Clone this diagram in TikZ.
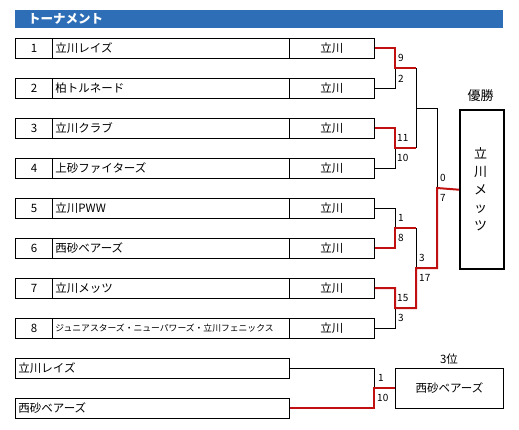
\documentclass[tikz,border=0pt]{standalone}
\usepackage{fontspec}
\setmainfont{Noto Sans CJK JP}
\definecolor{barblue}{RGB}{46,110,182}
\definecolor{winred}{RGB}{192,16,16}
\begin{document}
\begin{tikzpicture}[x=1pt,y=-1pt,
  cell/.style={draw=black, line width=0.9pt, minimum height=20, inner sep=0pt, anchor=west, font=\fontsize{11.5}{12}\selectfont},
  numcell/.style={cell, minimum width=37},
  namecell/.style={cell, text width=231, inner xsep=3pt, align=left},
  scorecell/.style={cell, minimum width=85},
  score/.style={anchor=west, inner sep=0pt, font=\fontsize{10}{10}\selectfont},
  blk/.style={draw=black, line width=0.9pt},
  red/.style={draw=winred, line width=2pt},
]
\useasboundingbox (0,0) rectangle (519,429);
% title bar
\node[fill=barblue, minimum width=488, minimum height=18, inner sep=0pt, anchor=north west] (bar) at (15,10) {};
\node[anchor=west, text=white, font=\bfseries\fontsize{12.5}{12.5}\selectfont, inner sep=0pt] (title) at (28,19) {トーナメント};

% team rows
\foreach \i/\nm/\y in {1/立川レイズ/48, 2/柏トルネード/88, 3/立川クラブ/128, 4/上砂ファイターズ/168, 5/立川PWW/208, 6/西砂ベアーズ/248, 7/立川メッツ/288} {
  \node[numcell] (n\i) at (15,\y) {\i};
  \node[namecell] (t\i) at (52,\y) {\nm};
  \node[scorecell] (s\i) at (289,\y) {立川};
}
\node[numcell] (n8) at (15,328) {8};
\node[namecell, font=\fontsize{8.8}{10}\selectfont] (t8) at (52,328) {ジュニアスターズ・ニューパワーズ・立川フェニックス};
\node[scorecell] (s8) at (289,328) {立川};

% junction coordinates
\coordinate (m1) at (395,68);  \coordinate (a1) at (416,68);
\coordinate (m2) at (395,148); \coordinate (a2) at (416,148);
\coordinate (m3) at (395,228); \coordinate (a3) at (416,228);
\coordinate (m4) at (395,308); \coordinate (a4) at (416,308);
\coordinate (q1) at (416,108); \coordinate (b1) at (437,108);
\coordinate (q2) at (416,268); \coordinate (b2) at (437,268);
\coordinate (f) at (437,188);

% champion box
\node[draw=black, line width=2.4pt, minimum width=44, minimum height=159, inner sep=0pt, anchor=north west] (champ) at (459,109) {};
\node[align=center, font=\fontsize{13}{18}\selectfont, inner sep=0pt] (champtxt) at (480.5,189) {立\\川\\メ\\ッ\\ツ};
\node[font=\fontsize{13}{13}\selectfont, inner sep=0pt] (yusho) at (480.5,96) {優勝};

% black lines
\draw[blk] (s2.east) -| (m1);
\draw[blk] (s4.east) -| (m2);
\draw[blk] (s5.east) -| (m3);
\draw[blk] (s8.east) -| (m4);
\draw[blk] (a1) -- (a2);
\draw[blk] (q1) -- (b1);
\draw[blk] (a3) -- (a4);
\draw[blk] (b1) -- (f);

% red lines (winners)
\draw[red] (s1.east) -| (m1) -- (a1);
\draw[red] (s3.east) -| (m2) -- (a2);
\draw[red] (s6.east) -| (m3) -- (a3);
\draw[red] (s7.east) -| (m4) -- (a4) -- (q2) -- (b2) -- (f) -- (champ.west);

% scores
\node[score] (sc1) at (398,58) {9};
\node[score] (sc2) at (398,79) {2};
\node[score] (sc3) at (397,138) {11};
\node[score] (sc4) at (397,158) {10};
\node[score] (sc5) at (398,218) {1};
\node[score] (sc6) at (398,238) {8};
\node[score] (sc7) at (397,298) {15};
\node[score] (sc8) at (398,318) {3};
\node[score] (sc9) at (419,258) {3};
\node[score] (sc10) at (419,278) {17};
\node[score] (sc11) at (440,178) {0};
\node[score] (sc12) at (440,198) {7};

% third place
\node[cell, text width=268, inner xsep=3pt, align=left] (p1) at (15,368) {立川レイズ};
\node[cell, text width=268, inner xsep=3pt, align=left] (p2) at (15,408) {西砂ベアーズ};
\coordinate (m5) at (374,388);
\node[draw=black, line width=0.9pt, minimum width=108, minimum height=40, inner sep=0pt, anchor=west, font=\fontsize{11.5}{12}\selectfont] (third) at (395,388) {西砂ベアーズ};
\node[font=\fontsize{11.5}{12}\selectfont, inner sep=0pt] (thirdlbl) at (449,359) {3位};
\draw[blk] (p1.east) -| (m5);
\draw[red] (p2.east) -| (m5) -- (third.west);
\node[score] (sc13) at (378,378) {1};
\node[score] (sc14) at (377,398) {10};
\end{tikzpicture}
\end{document}
